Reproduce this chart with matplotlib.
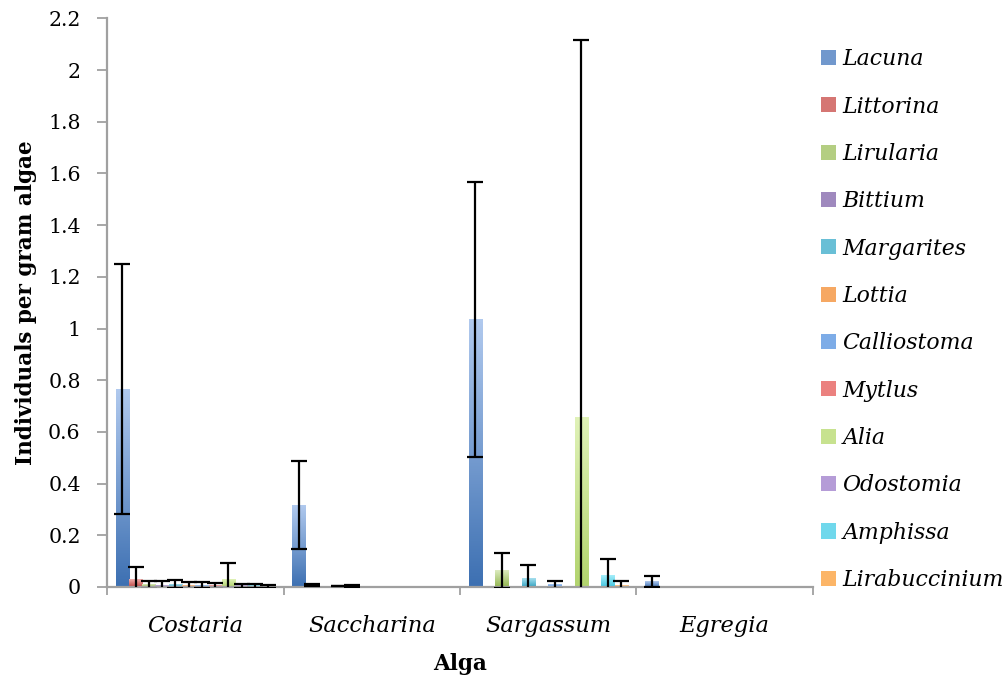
import matplotlib.pyplot as plt
import numpy as np
from matplotlib.colors import LinearSegmentedColormap
from matplotlib.patches import Patch

algae = ["Costaria", "Saccharina", "Sargassum", "Egregia"]
species = ["Lacuna", "Littorina", "Lirularia", "Bittium", "Margarites", "Lottia",
           "Calliostoma", "Mytlus", "Alia", "Odostomia", "Amphissa", "Lirabuccinium"]

# mean individuals per gram algae and error, species order as above
costaria_mean = [0.766, 0.028, 0.009, 0.005, 0.011, 0.006, 0.007, 0.004, 0.030, 0.004, 0.005, 0.003]
costaria_err = [0.483, 0.048, 0.016, 0.018, 0.016, 0.015, 0.012, 0.012, 0.062, 0.009, 0.008, 0.006]
saccharina_mean = [0.317, 0.009, 0.0, 0.003, 0.004, 0.0, 0.0, 0.0, 0.0, 0.0, 0.0, 0.0]
saccharina_err = [0.171, 0.004, 0.0, 0.001, 0.003, 0.0, 0.0, 0.0, 0.0, 0.0, 0.0, 0.0]
sargassum_mean = [1.034, 0.0, 0.064, 0.0, 0.032, 0.0, 0.008, 0.0, 0.655, 0.0, 0.044, 0.007]
sargassum_err = [0.533, 0.0, 0.068, 0.0, 0.055, 0.0, 0.016, 0.0, 1.461, 0.0, 0.064, 0.017]
egregia_mean = [0.020, 0.0, 0.0, 0.0, 0.0, 0.0, 0.0, 0.0, 0.0, 0.0, 0.0, 0.0]
egregia_err = [0.021, 0.0, 0.0, 0.0, 0.0, 0.0, 0.0, 0.0, 0.0, 0.0, 0.0, 0.0]

# (light top, dark bottom) gradient for each species
colors = [("#b0c9ee", "#3d70b2"), ("#f2b0ae", "#be4643"), ("#dcebbf", "#93b650"),
          ("#ccbde2", "#7a5ea0"), ("#a8e0ef", "#35a4c2"), ("#fdc9a0", "#f08c30"),
          ("#abcdf7", "#5890da"), ("#f8aeac", "#e05c5a"), ("#e0f2b8", "#b2d46e"),
          ("#d6c2ec", "#9a7cc6"), ("#a6eefa", "#44c6e0"), ("#ffcd98", "#f9a13e")]

means = np.array([costaria_mean, saccharina_mean, sargassum_mean, egregia_mean])
errs = np.array([costaria_err, saccharina_err, sargassum_err, egregia_err])

plt.rcParams['font.family'] = 'DejaVu Serif'
axis_grey = "#a0a0a0"

fig = plt.figure(figsize=(10.08, 6.79), dpi=100)
ax = fig.add_axes([0.1062, 0.1355, 0.7003, 0.8375])

n = len(species)
width = 0.903 / n
xcat = np.arange(len(algae))
# 1 = dark at the bottom row, 0 = light at the top
grad = np.linspace(1, 0, 64).reshape(-1, 1)

for i, name in enumerate(species):
    cmap = LinearSegmentedColormap.from_list(name, [colors[i][0], colors[i][1]])
    lefts = xcat - 0.5 + 0.0485 + i * width
    for x0, h in zip(lefts, means[:, i]):
        if h > 0:
            ax.imshow(grad, extent=(x0, x0 + width, 0, h), cmap=cmap, vmin=0, vmax=1,
                      aspect='auto', origin='lower', zorder=2, interpolation='bilinear')
    mask = errs[:, i] > 0
    ax.errorbar(lefts[mask] + width / 2, means[mask, i], yerr=errs[mask, i], fmt='none',
                ecolor='black', elinewidth=1.6, capsize=5.6, capthick=1.6, zorder=3)

ax.set_xlim(-0.5, 3.5)
ax.set_ylim(0, 2.2)
ax.set_yticks(np.arange(0, 2.21, 0.2))
ax.set_yticklabels(["0", "0.2", "0.4", "0.6", "0.8", "1", "1.2", "1.4", "1.6", "1.8", "2", "2.2"],
                   fontsize=14.8)
ax.set_xticks(xcat)
ax.set_xticklabels(algae, fontsize=16.2, style='italic')
ax.set_xticks(np.arange(-0.5, 3.6, 1), minor=True)
ax.tick_params(axis='x', which='major', length=0, pad=20)
ax.tick_params(axis='x', which='minor', length=6, width=1.3, color=axis_grey, direction='out')
ax.tick_params(axis='y', length=7, width=1.3, color=axis_grey, pad=12)

for side in ['top', 'right']:
    ax.spines[side].set_visible(False)
for side in ['left', 'bottom']:
    ax.spines[side].set_color(axis_grey)
    ax.spines[side].set_linewidth(1.6)

ax.set_ylabel("Individuals per gram algae", fontsize=15.5, fontweight='bold', labelpad=8)
ax.set_xlabel("Alga", fontsize=15.5, fontweight='bold', labelpad=12)

handles = [Patch(facecolor=LinearSegmentedColormap.from_list('m', list(c))(0.55), edgecolor='none')
           for c in colors]
fig.legend(handles, species, loc='upper left', bbox_to_anchor=(0.8145, 0.929),
           frameon=False, prop={'style': 'italic', 'size': 15.8},
           handlelength=0.68, handleheight=0.68, handletextpad=0.3,
           labelspacing=1.155, borderpad=0, borderaxespad=0)

fig.savefig("out.png", dpi=100)
